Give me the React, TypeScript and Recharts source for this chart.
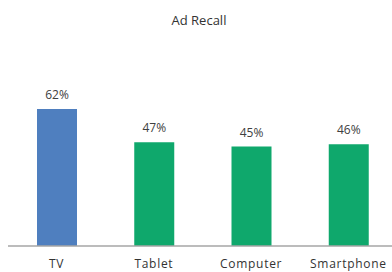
import { BarChart, Bar, XAxis, YAxis, LabelList, Cell } from 'recharts';

const categories = ['TV', 'Tablet', 'Computer', 'Smartphone'];
const recall = [62, 47, 45, 46];
const barColors = ['#4F7FBF', '#0FA86C', '#0FA86C', '#0FA86C'];

const data = categories.map((name, i) => ({ name, recall: recall[i] }));

const FONT = '"Open Sans", "Liberation Sans", sans-serif';

export default function App() {
  return (
    <div
      style={{
        position: 'fixed',
        top: 0,
        left: 0,
        width: 392,
        height: 272,
        overflow: 'hidden',
        background: '#fff',
        fontFamily: FONT,
      }}
    >
      <div
        style={{
          position: 'absolute',
          top: 11,
          left: 8,
          width: 382,
          textAlign: 'center',
          fontSize: 13,
          color: '#333',
        }}
      >
        Ad Recall
      </div>
      <div style={{ position: 'absolute', top: 8, left: 8 }}>
        <BarChart
          width={389}
          height={264}
          data={data}
          margin={{ top: 17, right: 0, bottom: 0, left: 0 }}
        >
          <YAxis hide domain={[0, 100]} />
          <XAxis
            dataKey="name"
            height={26}
            tickLine={false}
            tickSize={6}
            tickMargin={7}
            axisLine={{ stroke: '#a6a6a6', strokeWidth: 1.5 }}
            tick={{ fontSize: 12, fill: '#333', fontFamily: FONT, letterSpacing: 0.7 }}
            interval={0}
          />
          <Bar dataKey="recall" barSize={40} isAnimationActive={false}>
            {data.map((_, i) => (
              <Cell key={`cell-${i}`} fill={barColors[i]} />
            ))}
            <LabelList
              dataKey="recall"
              position="top"
              offset={10}
              formatter={(v: number) => `${v}%`}
              style={{ fontSize: 12, fill: '#404040', fontFamily: FONT }}
            />
          </Bar>
        </BarChart>
      </div>
    </div>
  );
}
